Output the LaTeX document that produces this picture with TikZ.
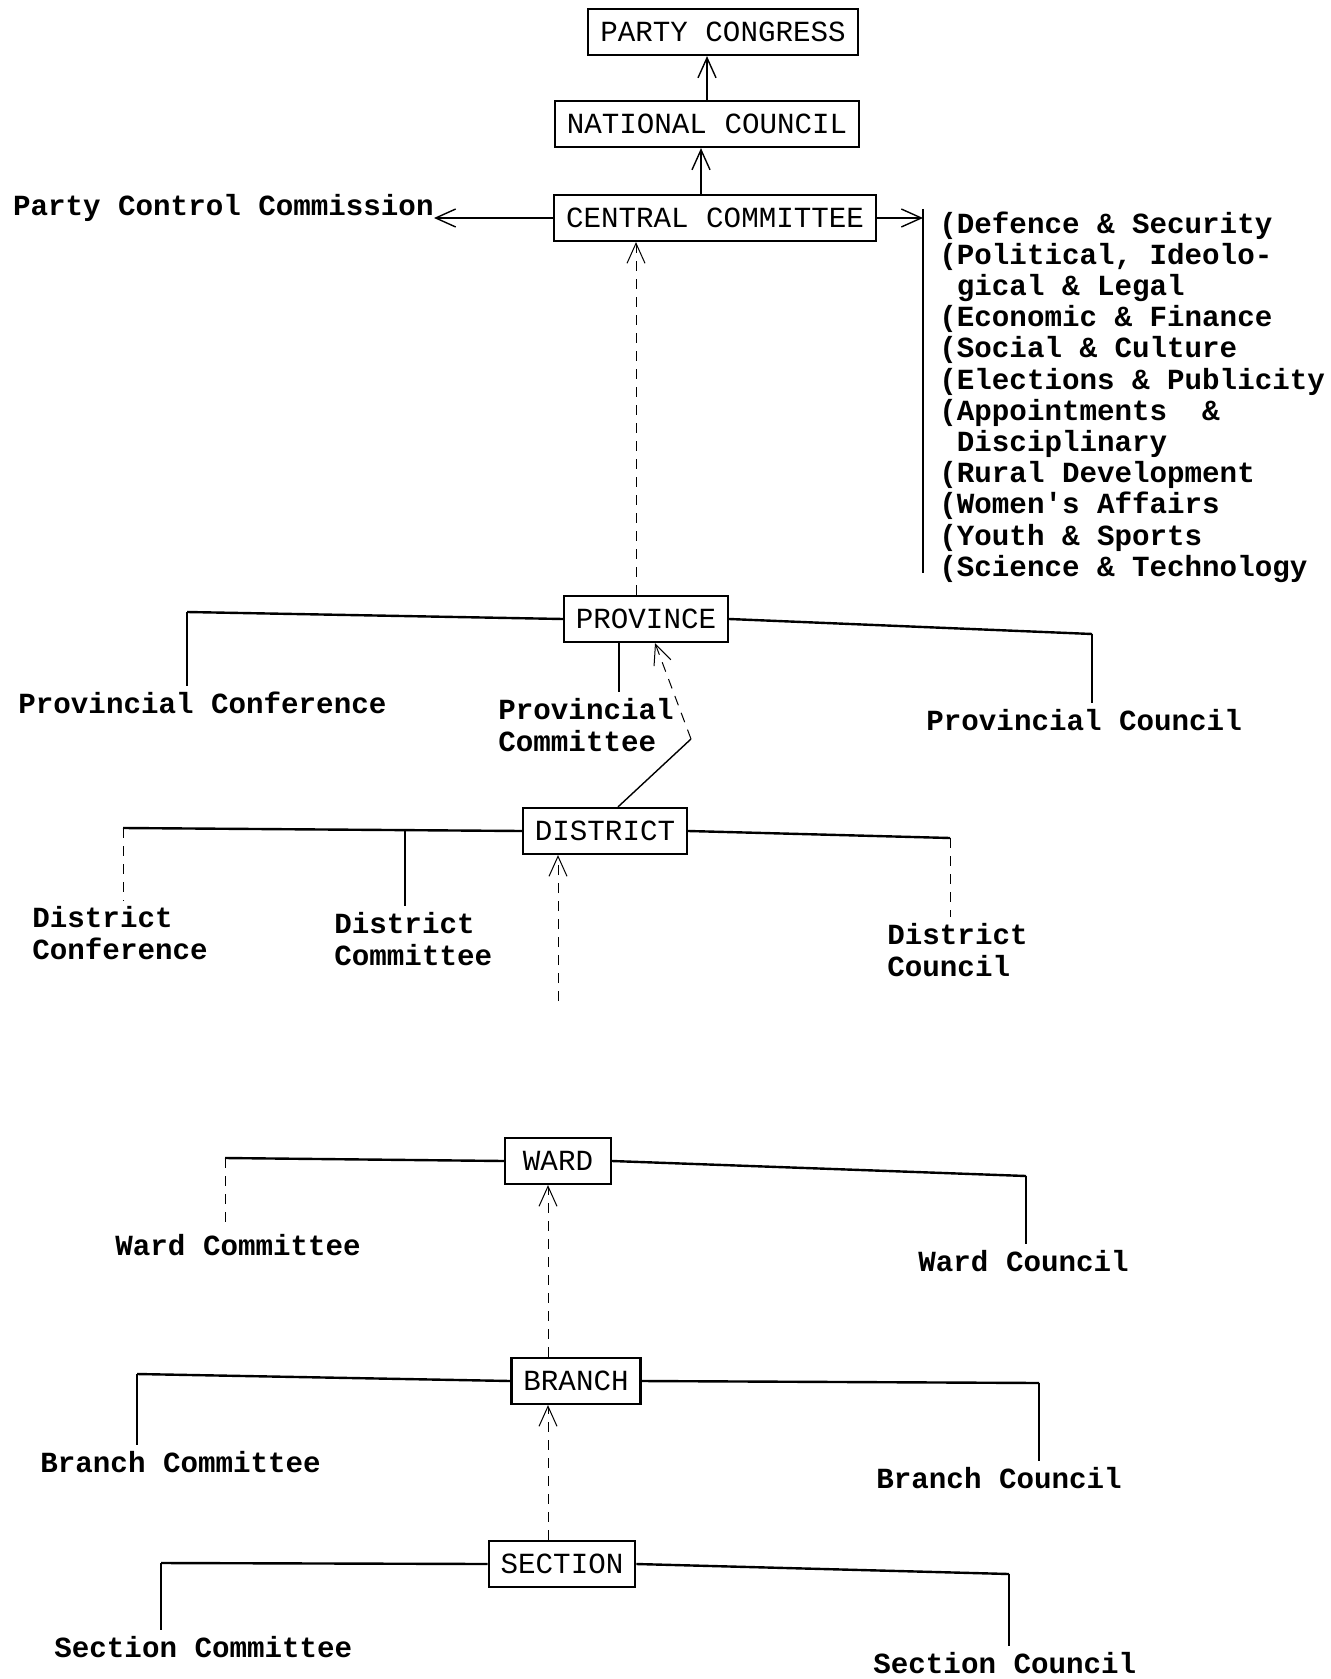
\documentclass[tikz,border=0pt]{standalone}
\usepackage{fontspec}
\newfontfamily\typewriter{Liberation Mono}
\usetikzlibrary{arrows.meta}

\tikzset{
  tw/.style={font=\typewriter\fontsize{14.6}{15.6}\selectfont},
  unit/.style={draw, line width=1.1pt, tw, inner xsep=6pt, minimum height=23pt},
  body/.style={tw, bold, align=left, anchor=west, inner xsep=0pt, inner ysep=3pt},
  bold/.style={font=\typewriter\bfseries\fontsize{14.6}{15.6}\selectfont},
  tie/.style={line width=1.2pt},
  drop/.style={line width=0.7pt},
  faint/.style={line width=0.5pt, dash pattern=on 5pt off 4pt},
  up/.style={-{Straight Barb[length=10pt,width=9pt]}, line width=0.7pt}
}

\begin{document}
\begin{tikzpicture}[x=0.5pt, y=-0.5pt]
  \useasboundingbox (0,0) rectangle (1331,1679);

  % national level
  \node[unit] (congress) at (723,32) {PARTY CONGRESS};
  \node[unit] (natcouncil) at (707,124) {NATIONAL COUNCIL};
  \node[unit] (central) at (715,218) {CENTRAL COMMITTEE};
  \node[body, anchor=east] (control) at (434,208) {Party Control Commission};
  \coordinate (barTop) at (923,209);
  \coordinate (barBot) at (923,573);
  \node[body, inner ysep=0pt] (depts) at (939,397) {(Defence \& Security\\
    (Political, Ideolo-\\
    \phantom{(}gical \& Legal\\
    (Economic \& Finance\\
    (Social \& Culture\\
    (Elections \& Publicity\\
    (Appointments~~\&\\
    \phantom{(}Disciplinary\\
    (Rural Development\\
    (Women's Affairs\\
    (Youth \& Sports\\
    (Science \& Technology};

  \draw[up] (natcouncil.north) -- (natcouncil.north |- congress.south);
  \draw[up] ([xshift=-7pt]central.north) -- ([xshift=-7pt]central.north |- natcouncil.south);
  \draw[up] (central.west) -- (central.west -| control.east);
  \draw[up] (central.east) -- (central.east -| barTop);
  \draw[line width=1.3pt] (barTop) -- (barBot);

  % province
  \node[unit] (province) at (646,619) {PROVINCE};
  \node[body] (provconf) at (18,703) {Provincial Conference};
  \node[body] (provcom) at (498,725) {Provincial\\Committee};
  \node[body] (provcoun) at (926,720) {Provincial Council};
  \coordinate (pL) at (187,612);
  \coordinate (pR) at (1092,634);
  \draw[tie] (province.west) -- (pL);
  \draw[drop] (pL) -- (pL |- provconf.north);
  \draw[tie] (province.east) -- (pR);
  \draw[drop] (pR) -- (pR |- provcoun.north);
  \draw[drop] ([xshift=-13.5pt]province.south) -- ([xshift=-13.5pt]province.south |- provcom.north);
  \draw[up, faint] ([xshift=-5pt]province.north) -- ([xshift=-5pt]province.north |- central.south);

  % district
  \node[unit] (district) at (605,831) {DISTRICT};
  \node[body] (distconf) at (32,933) {District\\Conference};
  \node[body] (distcom) at (334,939) {District\\Committee};
  \node[body] (distcoun) at (887,950) {District\\Council};
  \coordinate (dL) at (123,828);
  \coordinate (dM) at (405,829);
  \coordinate (dR) at (950,838);
  \coordinate (bend) at (691,739);
  \coordinate (distEnd) at (558,1001);
  \draw[tie] (district.west) -- (dL);
  \draw[faint] (dL) -- (dL |- distconf.north);
  \draw[drop] (dM) -- (dM |- distcom.north);
  \draw[tie] (district.east) -- (dR);
  \draw[faint] (dR) -- (dR |- distcoun.north);
  \draw[drop] ([xshift=6.5pt]district.north) -- (bend);
  \draw[up, faint] (bend) -- ([xshift=4.5pt]province.south);
  \draw[up, faint] (distEnd) -- (distEnd |- district.south);

  % ward
  \node[unit, minimum width=53pt] (ward) at (558,1161) {WARD};
  \node[body] (wardcom) at (115,1245) {Ward Committee};
  \node[body] (wardcoun) at (918,1261) {Ward Council};
  \coordinate (wL) at (225,1158);
  \coordinate (wR) at (1026,1176);
  \draw[tie] (ward.west) -- (wL);
  \draw[faint] (wL) -- (wL |- wardcom.north);
  \draw[tie] (ward.east) -- (wR);
  \draw[drop] (wR) -- (wR |- wardcoun.north);

  % branch
  \node[unit] (branch) at (576,1381) {BRANCH};
  \node[body] (brcom) at (40,1462) {Branch Committee};
  \node[body] (brcoun) at (876,1478) {Branch Council};
  \coordinate (bL) at (137,1374);
  \coordinate (bR) at (1039,1383);
  \draw[tie] (branch.west) -- (bL);
  \draw[drop] (bL) -- (bL |- brcom.north);
  \draw[tie] (branch.east) -- (bR);
  \draw[drop] (bR) -- (bR |- brcoun.north);
  \draw[up, faint] ([xshift=-14pt]branch.north) -- ([xshift=-14pt]branch.north |- ward.south);

  % section
  \node[unit] (section) at (562,1564) {SECTION};
  \node[body] (seccom) at (54,1647) {Section Committee};
  \node[body] (seccoun) at (873,1663) {Section Council};
  \coordinate (sL) at (161,1563);
  \coordinate (sR) at (1009,1574);
  \draw[tie] (section.west) -- (sL);
  \draw[drop] (sL) -- (sL |- seccom.north);
  \draw[tie] (section.east) -- (sR);
  \draw[drop] (sR) -- (sR |- seccoun.north);
  \draw[up, faint] ([xshift=-7pt]section.north) -- ([xshift=-7pt]section.north |- branch.south);
\end{tikzpicture}
\end{document}
